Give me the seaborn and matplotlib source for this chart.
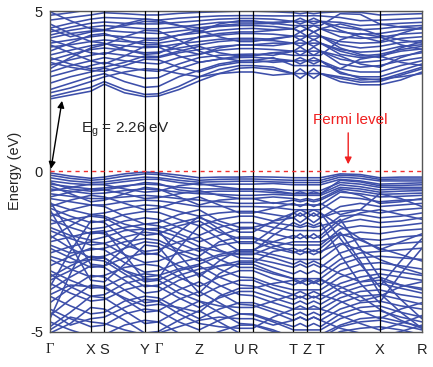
import numpy as np
import pandas as pd
import seaborn as sns
import matplotlib.pyplot as plt

# k-path: high-symmetry points (positions along the path, arbitrary units)
hs_pos = [0, 40.7, 54.3, 94.7, 108.3, 149, 189.3, 202.7, 243.3, 256.7, 270.3, 329.3, 371.7]
hs_labels = ['Γ', 'X', 'S', 'Y', 'Γ', 'Z', 'U', 'R', 'T', 'Z', 'T', 'X', 'R']

k_nodes = [0, 20.3, 40.7, 54.3, 74.5, 94.7, 108.3, 128.7, 149, 169, 189.3, 202.7,
           223, 243.3, 250, 256.7, 263.5, 270.3, 290, 310, 329.3, 350.5, 371.7]

conduction_bands = [
    [2.26, 2.38, 2.50, 2.72, 2.45, 2.33, 2.35, 2.55, 2.82, 3.05, 3.22, 3.24, 3.18, 3.05, 2.90, 3.05, 2.90, 3.05, 2.80, 2.70, 2.70, 2.85, 3.10],
    [2.33, 2.48, 2.62, 2.80, 2.55, 2.40, 2.42, 2.65, 2.95, 3.18, 3.30, 3.30, 3.25, 3.05, 3.20, 3.05, 3.20, 3.05, 2.90, 2.78, 2.80, 3.00, 3.20],
    [2.55, 2.75, 2.95, 3.05, 2.80, 2.62, 2.65, 2.95, 3.15, 3.35, 3.45, 3.47, 3.40, 3.45, 3.35, 3.45, 3.35, 3.45, 3.05, 2.95, 2.95, 3.15, 3.35],
    [2.75, 2.95, 3.10, 3.22, 3.05, 2.90, 2.92, 3.20, 3.40, 3.50, 3.55, 3.56, 3.52, 3.45, 3.55, 3.45, 3.55, 3.45, 3.20, 3.10, 3.10, 3.30, 3.45],
    [2.95, 3.12, 3.30, 3.40, 3.25, 3.15, 3.12, 3.35, 3.55, 3.62, 3.65, 3.66, 3.62, 3.75, 3.62, 3.75, 3.62, 3.75, 3.35, 3.25, 3.30, 3.45, 3.55],
    [3.10, 3.30, 3.45, 3.55, 3.45, 3.38, 3.35, 3.55, 3.65, 3.78, 3.83, 3.83, 3.80, 3.75, 3.88, 3.75, 3.88, 3.75, 3.50, 3.40, 3.45, 3.60, 3.70],
    [3.31, 3.48, 3.62, 3.70, 3.62, 3.55, 3.55, 3.70, 3.80, 3.90, 3.94, 3.94, 3.92, 4.00, 3.90, 4.00, 3.90, 4.00, 3.65, 3.55, 3.60, 3.75, 3.82],
    [3.47, 3.65, 3.80, 3.85, 3.78, 3.70, 3.72, 3.85, 3.95, 4.05, 4.10, 4.10, 4.08, 4.00, 4.12, 4.00, 4.12, 4.00, 3.80, 3.72, 3.75, 3.90, 3.95],
    [3.63, 3.78, 3.92, 3.98, 3.92, 3.86, 3.88, 3.98, 4.05, 4.12, 4.15, 4.15, 4.12, 4.22, 4.10, 4.22, 4.10, 4.22, 3.95, 3.85, 3.90, 4.02, 4.08],
    [3.88, 3.95, 4.05, 4.10, 4.05, 4.02, 4.00, 4.10, 4.18, 4.25, 4.30, 4.30, 4.28, 4.22, 4.35, 4.22, 4.35, 4.22, 4.05, 4.00, 4.02, 4.15, 4.20],
    [4.00, 4.10, 4.20, 4.25, 4.20, 4.15, 4.15, 4.25, 4.32, 4.40, 4.45, 4.46, 4.42, 4.45, 4.35, 4.45, 4.35, 4.45, 4.20, 4.15, 4.18, 4.28, 4.32],
    [4.16, 4.30, 4.38, 4.40, 4.35, 4.32, 4.30, 4.38, 4.45, 4.52, 4.55, 4.55, 4.52, 4.45, 4.55, 4.45, 4.55, 4.45, 4.35, 4.28, 4.30, 4.40, 4.45],
    [4.25, 4.40, 4.50, 4.55, 4.50, 4.45, 4.45, 4.50, 4.58, 4.65, 4.66, 4.66, 4.65, 4.68, 4.60, 4.68, 4.60, 4.68, 4.50, 4.42, 4.45, 4.52, 4.55],
    [4.35, 4.50, 4.62, 4.66, 4.62, 4.60, 4.60, 4.65, 4.70, 4.75, 4.77, 4.77, 4.75, 4.68, 4.78, 4.68, 4.78, 4.68, 4.65, 4.55, 4.58, 4.62, 4.65],
    [4.47, 4.62, 4.75, 4.80, 4.78, 4.75, 4.72, 4.78, 4.82, 4.85, 4.86, 4.86, 4.85, 4.85, 4.86, 4.85, 4.86, 4.85, 4.80, 4.70, 4.72, 4.75, 4.78],
    [4.72, 4.80, 4.88, 4.95, 4.92, 4.88, 4.88, 4.93, 4.96, 4.98, 5.00, 5.00, 4.98, 4.95, 4.92, 4.95, 4.92, 4.95, 4.98, 4.96, 4.88, 4.90, 4.92],
    [4.87, 4.95, 5.05, 5.10, 5.08, 5.05, 5.05, 5.10, 5.15, 5.15, 5.15, 5.15, 5.12, 5.08, 5.02, 5.08, 5.02, 5.08, 5.10, 5.10, 5.05, 5.05, 5.05],
    [4.98, 4.70, 4.45, 4.42, 4.55, 4.68, 4.66, 4.55, 4.48, 4.55, 4.60, 4.60, 4.62, 4.55, 4.55, 4.55, 4.55, 4.55, 4.92, 4.90, 4.60, 4.50, 4.45],
    [3.95, 3.70, 3.45, 3.35, 3.60, 3.90, 3.88, 3.60, 3.40, 3.50, 3.60, 3.62, 3.70, 3.62, 3.62, 3.62, 3.62, 3.62, 4.10, 4.30, 4.20, 3.95, 3.80],
    [3.20, 3.55, 3.85, 3.95, 4.20, 4.40, 4.38, 4.10, 3.75, 3.55, 3.45, 3.45, 3.55, 3.30, 3.30, 3.30, 3.30, 3.30, 3.20, 3.50, 3.60, 3.40, 3.30],
    [4.60, 4.30, 4.05, 4.00, 3.80, 3.65, 3.68, 3.95, 4.20, 4.30, 4.35, 4.35, 4.40, 4.45, 4.35, 4.45, 4.35, 4.45, 4.60, 4.45, 4.25, 4.10, 4.00],
    [3.40, 3.25, 3.15, 3.12, 3.30, 3.50, 3.48, 3.25, 3.10, 3.30, 3.40, 3.40, 3.45, 3.45, 3.45, 3.45, 3.45, 3.45, 3.10, 2.90, 2.85, 3.05, 3.25],
    [2.45, 2.60, 2.80, 2.95, 3.10, 3.20, 3.18, 3.05, 2.95, 3.05, 3.10, 3.10, 3.00, 3.05, 3.05, 3.05, 3.05, 3.05, 2.95, 2.85, 2.88, 2.95, 3.05],
    [3.55, 3.35, 3.20, 3.25, 3.40, 3.60, 3.58, 3.75, 3.90, 3.70, 3.60, 3.60, 3.70, 3.75, 3.75, 3.75, 3.75, 3.75, 3.60, 3.35, 3.25, 3.55, 3.75],
    [4.10, 3.90, 3.70, 3.65, 3.90, 4.10, 4.08, 4.25, 4.40, 4.20, 4.05, 4.05, 4.15, 4.22, 4.22, 4.22, 4.22, 4.22, 3.85, 3.65, 3.55, 3.85, 4.05],
    [4.45, 4.20, 4.35, 4.40, 4.60, 4.75, 4.72, 4.55, 4.35, 4.60, 4.70, 4.70, 4.60, 4.68, 4.68, 4.68, 4.68, 4.68, 4.40, 4.20, 4.05, 4.30, 4.50],
    [3.75, 4.00, 4.25, 4.30, 4.10, 3.95, 3.95, 3.80, 3.65, 3.85, 3.95, 3.95, 4.00, 4.00, 4.00, 4.00, 4.00, 4.00, 3.75, 3.60, 3.65, 3.80, 3.90],
]

valence_bands = [
    [-0.05, -0.15, -0.22, -0.18, -0.08, -0.02, -0.05, -0.12, -0.20, -0.18, -0.18, -0.17, -0.18, -0.20, -0.20, -0.20, -0.20, -0.20, -0.08, -0.10, -0.20, -0.18, -0.18],
    [-0.12, -0.22, -0.28, -0.25, -0.15, -0.08, -0.10, -0.20, -0.28, -0.25, -0.24, -0.24, -0.26, -0.28, -0.28, -0.28, -0.28, -0.28, -0.12, -0.15, -0.25, -0.24, -0.24],
    [-0.20, -0.30, -0.35, -0.33, -0.25, -0.18, -0.20, -0.28, -0.34, -0.32, -0.31, -0.31, -0.33, -0.35, -0.35, -0.35, -0.35, -0.35, -0.18, -0.22, -0.30, -0.30, -0.30],
    [-0.30, -0.38, -0.42, -0.40, -0.32, -0.25, -0.25, -0.35, -0.42, -0.40, -0.40, -0.40, -0.38, -0.42, -0.42, -0.42, -0.42, -0.42, -0.25, -0.30, -0.40, -0.38, -0.36],
    [-0.40, -0.48, -0.55, -0.52, -0.45, -0.40, -0.42, -0.50, -0.55, -0.55, -0.56, -0.56, -0.55, -0.60, -0.60, -0.60, -0.60, -0.60, -0.35, -0.40, -0.50, -0.50, -0.50],
    [-0.62, -0.50, -0.40, -0.42, -0.55, -0.65, -0.62, -0.45, -0.38, -0.48, -0.55, -0.55, -0.60, -0.70, -0.70, -0.70, -0.70, -0.70, -0.42, -0.48, -0.58, -0.55, -0.55],
    [-0.55, -0.62, -0.70, -0.68, -0.60, -0.55, -0.58, -0.65, -0.70, -0.72, -0.75, -0.75, -0.72, -0.75, -0.75, -0.75, -0.75, -0.75, -0.50, -0.55, -0.65, -0.62, -0.60],
    [-0.70, -0.78, -0.85, -0.85, -0.80, -0.75, -0.78, -0.85, -0.90, -0.95, -1.00, -1.00, -0.98, -1.05, -1.05, -1.05, -1.05, -1.05, -0.65, -0.70, -0.80, -0.78, -0.75],
    [-0.85, -0.95, -1.05, -1.05, -0.95, -0.90, -0.92, -1.00, -1.10, -1.10, -1.10, -1.10, -1.12, -1.20, -1.20, -1.20, -1.20, -1.20, -0.80, -0.85, -0.95, -0.90, -0.88],
    [-1.00, -1.20, -1.35, -1.30, -1.15, -1.05, -1.08, -1.25, -1.40, -1.30, -1.25, -1.25, -1.35, -1.45, -1.30, -1.45, -1.30, -1.45, -1.10, -1.00, -1.10, -1.05, -1.00],
    [-1.15, -1.40, -1.60, -1.55, -1.35, -1.25, -1.28, -1.50, -1.70, -1.50, -1.40, -1.40, -1.55, -1.45, -1.60, -1.45, -1.60, -1.45, -1.25, -1.20, -1.30, -1.20, -1.15],
    [-1.30, -1.55, -1.80, -1.75, -1.55, -1.45, -1.50, -1.75, -2.00, -1.75, -1.60, -1.60, -1.75, -1.85, -1.85, -1.85, -1.85, -1.85, -1.40, -1.35, -1.45, -1.40, -1.30],
    [-1.50, -1.75, -1.95, -1.90, -1.75, -1.65, -1.70, -1.95, -2.20, -2.00, -1.80, -1.78, -1.95, -2.10, -1.95, -2.10, -1.95, -2.10, -1.60, -1.50, -1.60, -1.55, -1.45],
    [-1.65, -1.50, -1.40, -1.45, -1.80, -2.00, -1.95, -1.70, -1.55, -1.90, -2.10, -2.10, -2.20, -2.30, -2.30, -2.30, -2.30, -2.30, -1.80, -1.70, -1.75, -1.70, -1.62],
    [-1.85, -2.10, -2.30, -2.25, -2.05, -1.90, -1.95, -2.25, -2.50, -2.30, -2.20, -2.20, -2.40, -2.55, -2.45, -2.55, -2.45, -2.55, -2.00, -1.90, -1.95, -1.85, -1.80],
    [-2.00, -2.40, -2.70, -2.65, -2.40, -2.20, -2.25, -2.55, -2.80, -2.60, -2.45, -2.45, -2.60, -2.75, -2.75, -2.75, -2.75, -2.75, -2.30, -2.10, -2.15, -2.05, -2.00],
    [-2.20, -2.05, -1.90, -1.95, -2.30, -2.50, -2.45, -2.20, -2.05, -2.45, -2.70, -2.72, -2.85, -3.00, -2.90, -3.00, -2.90, -3.00, -2.55, -2.35, -2.30, -2.25, -2.20],
    [-2.40, -2.70, -3.00, -2.95, -2.70, -2.55, -2.60, -2.95, -3.20, -2.95, -2.80, -2.80, -3.00, -3.20, -3.10, -3.20, -3.10, -3.20, -2.75, -2.55, -2.50, -2.45, -2.40],
    [-2.55, -2.35, -2.20, -2.25, -2.60, -2.85, -2.80, -2.55, -2.40, -2.75, -3.00, -3.00, -3.20, -3.35, -3.35, -3.35, -3.35, -3.35, -2.90, -2.70, -2.65, -2.70, -2.75],
    [-2.75, -3.05, -3.30, -3.25, -3.00, -2.90, -2.95, -3.30, -3.60, -3.30, -3.10, -3.10, -3.35, -3.55, -3.45, -3.55, -3.45, -3.55, -3.10, -2.90, -2.85, -2.95, -3.05],
    [-2.95, -2.65, -2.40, -2.45, -2.85, -3.15, -3.10, -2.85, -2.70, -3.05, -3.30, -3.32, -3.55, -3.70, -3.70, -3.70, -3.70, -3.70, -3.30, -3.10, -3.05, -3.15, -3.25],
    [-3.10, -3.40, -3.65, -3.60, -3.30, -3.20, -3.25, -3.60, -3.90, -3.60, -3.40, -3.40, -3.65, -3.85, -3.75, -3.85, -3.75, -3.85, -3.50, -3.30, -3.20, -3.30, -3.40],
    [-3.30, -2.95, -2.65, -2.70, -3.10, -3.45, -3.40, -3.10, -2.95, -3.30, -3.55, -3.58, -3.80, -4.00, -3.90, -4.00, -3.90, -4.00, -3.65, -3.45, -3.40, -3.55, -3.65],
    [-3.50, -3.80, -4.05, -4.00, -3.70, -3.55, -3.60, -3.95, -4.25, -3.95, -3.75, -3.75, -3.95, -4.15, -4.05, -4.15, -4.05, -4.15, -3.80, -3.60, -3.50, -3.65, -3.80],
    [-3.70, -3.30, -2.95, -3.00, -3.40, -3.80, -3.75, -3.40, -3.20, -3.55, -3.85, -3.88, -4.10, -4.30, -4.30, -4.30, -4.30, -4.30, -3.95, -3.75, -3.70, -3.85, -3.95],
    [-3.90, -4.20, -4.45, -4.40, -4.05, -3.90, -3.95, -4.30, -4.60, -4.30, -4.10, -4.10, -4.30, -4.50, -4.40, -4.50, -4.40, -4.50, -4.10, -3.90, -3.85, -4.00, -4.15],
    [-4.10, -3.65, -3.25, -3.30, -3.70, -4.10, -4.05, -3.70, -3.45, -3.80, -4.15, -4.18, -4.40, -4.65, -4.55, -4.65, -4.55, -4.65, -4.30, -4.10, -4.05, -4.20, -4.30],
    [-4.30, -4.60, -4.85, -4.80, -4.45, -4.30, -4.35, -4.70, -4.95, -4.65, -4.45, -4.45, -4.65, -4.85, -4.75, -4.85, -4.75, -4.85, -4.45, -4.25, -4.20, -4.40, -4.55],
    [-4.50, -4.00, -3.55, -3.60, -4.00, -4.40, -4.35, -4.00, -3.75, -4.10, -4.45, -4.48, -4.70, -4.95, -4.95, -4.95, -4.95, -4.95, -4.60, -4.40, -4.35, -4.55, -4.70],
    [-4.70, -4.95, -5.15, -5.10, -4.80, -4.65, -4.70, -5.05, -5.25, -5.00, -4.80, -4.80, -5.00, -5.10, -5.10, -5.10, -5.10, -5.10, -4.80, -4.60, -4.55, -4.70, -4.85],
    [-4.85, -4.40, -3.90, -3.95, -4.35, -4.75, -4.70, -4.35, -4.05, -4.40, -4.75, -4.78, -4.95, -5.20, -5.20, -5.20, -5.20, -5.20, -4.85, -4.70, -4.65, -4.80, -4.95],
    [-5.05, -4.75, -4.25, -4.30, -4.65, -5.05, -5.00, -4.65, -4.35, -4.70, -5.05, -5.08, -5.20, -5.30, -5.30, -5.30, -5.30, -5.30, -5.00, -4.90, -4.85, -4.95, -5.10],
    [-4.60, -3.20, -1.90, -1.85, -2.60, -3.40, -3.35, -2.40, -1.70, -2.10, -2.50, -2.50, -2.00, -1.60, -1.70, -1.60, -1.70, -1.60, -2.60, -3.50, -4.10, -3.20, -2.40],
    [-3.60, -2.50, -1.55, -1.60, -2.10, -2.60, -2.55, -1.90, -1.40, -1.80, -2.25, -2.25, -1.80, -1.30, -1.40, -1.30, -1.40, -1.30, -2.10, -2.90, -3.60, -2.80, -2.10],
    [-1.20, -2.30, -3.40, -3.45, -2.90, -2.30, -2.35, -3.10, -3.80, -3.20, -2.85, -2.85, -2.50, -2.40, -2.50, -2.40, -2.50, -2.40, -1.90, -2.80, -3.80, -4.40, -4.90],
    [-0.95, -1.90, -2.90, -2.95, -2.40, -1.80, -1.85, -2.60, -3.30, -2.80, -2.45, -2.45, -2.20, -2.00, -2.10, -2.00, -2.10, -2.00, -1.50, -2.40, -3.30, -4.00, -4.60],
    [-0.45, -0.70, -0.95, -0.90, -0.70, -0.50, -0.55, -0.80, -1.05, -0.90, -0.85, -0.85, -1.00, -0.90, -0.95, -0.90, -0.95, -0.90, -0.60, -0.75, -1.00, -0.95, -0.85],
    [-1.10, -0.90, -0.75, -0.80, -1.00, -1.20, -1.15, -0.95, -0.80, -1.05, -1.30, -1.30, -1.15, -1.00, -1.10, -1.00, -1.10, -1.00, -1.35, -1.20, -0.70, -0.85, -1.10],
    [-1.40, -1.20, -1.05, -1.10, -1.40, -1.65, -1.60, -1.35, -1.20, -1.55, -1.75, -1.75, -1.60, -1.70, -1.75, -1.70, -1.75, -1.70, -1.55, -1.30, -1.20, -1.35, -1.50],
    [-1.75, -2.00, -2.15, -2.05, -1.85, -1.80, -1.85, -2.05, -2.35, -2.50, -2.60, -2.60, -2.35, -2.20, -2.20, -2.20, -2.20, -2.20, -1.95, -2.15, -2.40, -2.60, -2.80],
    [-2.30, -2.55, -2.45, -2.40, -2.20, -2.10, -2.15, -2.45, -2.65, -2.20, -2.05, -2.05, -2.30, -2.50, -2.60, -2.50, -2.60, -2.50, -2.25, -2.45, -2.75, -3.00, -3.20],
    [-2.65, -2.85, -2.75, -2.70, -3.10, -3.30, -3.25, -3.05, -2.90, -2.65, -2.55, -2.55, -2.70, -2.90, -2.80, -2.90, -2.80, -2.90, -3.20, -3.45, -3.30, -3.55, -3.70],
    [-3.20, -3.60, -3.90, -3.85, -3.50, -3.35, -3.40, -3.80, -4.05, -4.20, -4.25, -4.25, -4.05, -3.85, -3.95, -3.85, -3.95, -3.85, -4.05, -4.35, -4.60, -4.30, -4.10],
    [-3.85, -3.55, -3.60, -3.65, -3.95, -4.20, -4.15, -4.25, -4.40, -3.90, -3.65, -3.65, -3.50, -3.40, -3.50, -3.40, -3.50, -3.40, -3.60, -3.90, -4.30, -4.65, -4.90],
    [-4.40, -4.80, -4.60, -4.55, -4.25, -4.00, -4.05, -4.45, -4.75, -4.85, -4.90, -4.90, -4.55, -4.30, -4.20, -4.30, -4.20, -4.30, -4.50, -4.75, -4.95, -4.75, -4.50],
    [-4.95, -4.55, -4.70, -4.75, -4.95, -5.10, -5.05, -4.85, -4.65, -4.55, -4.60, -4.60, -4.80, -4.65, -4.55, -4.65, -4.55, -4.65, -4.90, -5.05, -5.15, -5.00, -4.80],
    [-2.10, -1.70, -1.35, -1.40, -1.65, -1.80, -1.78, -1.60, -1.45, -1.65, -1.90, -1.90, -1.55, -1.30, -1.20, -1.30, -1.20, -1.30, -1.70, -2.10, -2.45, -2.20, -1.95],
    [-3.40, -3.10, -2.75, -2.80, -3.20, -3.60, -3.55, -3.25, -3.05, -2.95, -2.90, -2.90, -3.15, -3.35, -3.45, -3.35, -3.45, -3.35, -3.75, -4.05, -3.90, -3.60, -3.45],
    [-0.35, -0.55, -0.62, -0.58, -0.48, -0.35, -0.38, -0.58, -0.65, -0.62, -0.62, -0.62, -0.66, -0.70, -0.64, -0.70, -0.64, -0.70, -0.28, -0.33, -0.45, -0.44, -0.42],
    [-0.80, -0.65, -0.55, -0.58, -0.70, -0.85, -0.82, -0.70, -0.60, -0.75, -0.85, -0.85, -0.80, -0.85, -0.90, -0.85, -0.90, -0.85, -0.55, -0.62, -0.72, -0.70, -0.68],
]

gap_text = r'$\mathregular{E_g}$ = 2.26 eV'
fermi_text = 'Fermi level'

# long-form table for seaborn
rows = []
for i, band in enumerate(conduction_bands + valence_bands):
    for k, e in zip(k_nodes, band):
        rows.append({'band': i, 'k': k, 'E': e})
df = pd.DataFrame(rows)

sns.set_style('white')
plt.rcParams['font.family'] = ['Liberation Sans', 'DejaVu Sans']
plt.rcParams['axes.unicode_minus'] = False

fig = plt.figure(figsize=(4.33, 3.67), dpi=100)
ax = fig.add_axes([0.1155, 0.0967, 0.859, 0.873])

sns.lineplot(data=df, x='k', y='E', units='band', estimator=None,
             color='#3D4FAA', lw=1.15, ax=ax, legend=False)

for x in hs_pos[1:-1]:
    ax.axvline(x, color='black', lw=0.9, zorder=3)
ax.axhline(0, color='#F03030', lw=1.0, ls=(0, (3, 3)), zorder=4)

ax.set_xlim(hs_pos[0], hs_pos[-1])
ax.set_ylim(-5, 5)
ax.set_xticks(hs_pos)
ax.set_xticklabels(hs_labels, fontsize=10.5)
for lab in ax.get_xticklabels():
    if lab.get_text() == 'Γ':
        lab.set_fontfamily(['Liberation Serif', 'DejaVu Serif'])
        lab.set_fontsize(11.5)
ax.set_yticks([-5, 0, 5])
ax.tick_params(axis='both', length=0, labelsize=10.5, colors='#222222')
ax.tick_params(axis='x', pad=8)
ax.tick_params(axis='y', pad=5)
ax.set_xlabel('')
ax.set_ylabel('Energy (eV)', fontsize=10.5, labelpad=6)
for s in ax.spines.values():
    s.set_color('#555555')
    s.set_linewidth(1.0)

ax.annotate('', xy=(1, 0.08), xytext=(12, 2.2),
            arrowprops=dict(arrowstyle='<|-|>', color='black', lw=1.0,
                            mutation_scale=10, shrinkA=0, shrinkB=0))
ax.text(31, 1.28, gap_text, fontsize=11, va='center', ha='left')

ax.text(300, 1.6, fermi_text, color='#F02020', fontsize=11, va='center', ha='center')
ax.annotate('', xy=(298, 0.22), xytext=(298, 1.2),
            arrowprops=dict(arrowstyle='-|>', color='#F02020', lw=1.0,
                            mutation_scale=10, shrinkA=0, shrinkB=0))

fig.savefig('out.png', dpi=100)
